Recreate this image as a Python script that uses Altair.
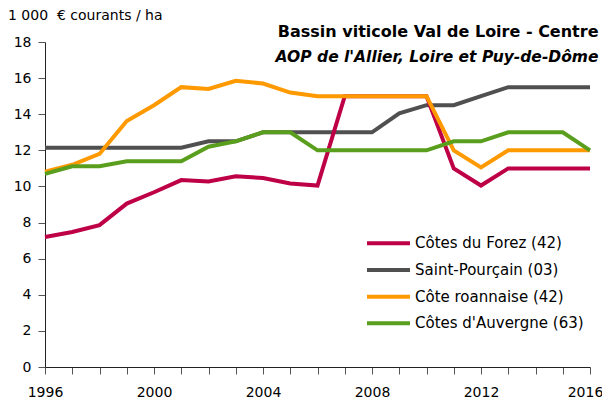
import altair as alt
import pandas as pd

years = [1996, 1997, 1998, 1999, 2000, 2001, 2002, 2003, 2004, 2005, 2006,
         2007, 2008, 2009, 2010, 2011, 2012, 2013, 2014, 2015, 2016]
series_names = ["Côtes du Forez (42)", "Saint-Pourçain (03)",
                "Côte roannaise (42)", "Côtes d'Auvergne (63)"]
series_colors = ["#BE0046", "#505050", "#FF9900", "#5A9E1E"]
forez = [7.2, 7.48, 7.86, 9.05, 9.68, 10.35, 10.28, 10.56, 10.47, 10.16, 10.05,
         15.0, 15.0, 15.0, 15.0, 11.0, 10.05, 11.0, 11.0, 11.0, 11.0]
pourcain = [12.15, 12.15, 12.15, 12.15, 12.15, 12.15, 12.5, 12.5, 13.0, 13.0, 13.0,
            13.0, 13.0, 14.05, 14.5, 14.5, 15.0, 15.5, 15.5, 15.5, 15.5]
roannaise = [10.82, 11.2, 11.8, 13.62, 14.5, 15.5, 15.4, 15.85, 15.7, 15.2, 15.0,
             15.0, 15.0, 15.0, 15.0, 12.0, 11.05, 12.0, 12.0, 12.0, 12.0]
auvergne = [10.7, 11.12, 11.12, 11.4, 11.4, 11.4, 12.2, 12.5, 13.0, 13.0, 12.0,
            12.0, 12.0, 12.0, 12.0, 12.5, 12.5, 13.0, 13.0, 13.0, 12.0]
draw_order = ["Saint-Pourçain (03)", "Côtes du Forez (42)",
              "Côte roannaise (42)", "Côtes d'Auvergne (63)"]
y_ticks = [0, 2, 4, 6, 8, 10, 12, 14, 16, 18]
unit_label = "1\u00a0000\u00a0\u00a0€ courants / ha"
title_1 = "Bassin viticole Val de Loire - Centre"
title_2 = "AOP de l'Allier, Loire et Puy-de-Dôme"

FONT = "DejaVu Sans"
values = {series_names[0]: forez, series_names[1]: pourcain,
          series_names[2]: roannaise, series_names[3]: auvergne}
rows = []
for name in series_names:
    for yr, v in zip(years, values[name]):
        rows.append({"year": yr, "value": v, "series": name})
df = pd.DataFrame(rows)

color_scale = alt.Scale(domain=series_names, range=series_colors)

x_enc = alt.X("year:Q", scale=alt.Scale(domain=[1996, 2016], nice=False, zero=False),
              axis=alt.Axis(values=years, format="d", title=None,
                            labelExpr="datum.value % 4 == 0 ? datum.label : ''",
                            tickSize=7, labelPadding=11, labelFontSize=14,
                            labelFont=FONT, labelColor="#000", tickColor="#555",
                            domainColor="#222", grid=False, labelFlush=False,
                            labelOverlap=False, labelBound=False,
                            labelOffset={"condition": {"test": "datum.value == 2016",
                                                       "value": -5},
                                         "value": 0}))
y_enc = alt.Y("value:Q", scale=alt.Scale(domain=[0, 18], nice=False),
              axis=alt.Axis(values=y_ticks, title=None, tickSize=7, labelPadding=7,
                            labelFontSize=14, labelFont=FONT, labelColor="#000",
                            tickColor="#555", domainColor="#222", grid=False,
                            labelOverlap=False, labelFlush=False))

line_layers = []
for name in draw_order:
    layer = alt.Chart(df).transform_filter(
        alt.datum.series == name
    ).mark_line(strokeWidth=4, strokeJoin="miter", strokeCap="butt").encode(
        x=x_enc,
        y=y_enc,
        color=alt.Color("series:N", scale=color_scale, legend=None),
    )
    line_layers.append(layer)

leg_df = pd.DataFrame({"series": series_names, "idx": list(range(len(series_names)))})
leg_base = alt.Chart(leg_df).transform_calculate(ly="201.3 + datum.idx * 26.67")
leg_rules = leg_base.mark_rule(strokeWidth=4).encode(
    x=alt.value(322), x2=alt.value(365),
    y=alt.Y("ly:Q", scale=None),
    color=alt.Color("series:N", scale=color_scale, legend=None),
)
leg_text = leg_base.mark_text(align="left", baseline="middle", font=FONT,
                              fontSize=15, color="#000").encode(
    x=alt.value(370), y=alt.Y("ly:Q", scale=None), text="series:N",
)

unit_text = alt.Chart(pd.DataFrame({"t": [unit_label]})).mark_text(
    align="left", baseline="alphabetic", font=FONT, fontSize=14, color="#000"
).encode(x=alt.value(-37), y=alt.value(-22.5), text="t:N")

t1 = alt.Chart(pd.DataFrame({"t": [title_1]})).mark_text(
    align="right", baseline="alphabetic", font=FONT, fontSize=16,
    fontWeight="bold", color="#000"
).encode(x=alt.value(553.5), y=alt.value(-5.3), text="t:N")

t2 = alt.Chart(pd.DataFrame({"t": [title_2]})).mark_text(
    align="right", baseline="alphabetic", font=FONT, fontSize=15.5,
    fontWeight="bold", fontStyle="italic", color="#000"
).encode(x=alt.value(553.5), y=alt.value(20.3), text="t:N")

chart = alt.layer(*line_layers, leg_rules, leg_text, unit_text, t1, t2).properties(
    width=545, height=325,
    autosize=alt.AutoSizeParams(type="none"),
    padding={"left": 37, "top": 34, "right": 12, "bottom": 32},
    background="#ffffff",
).configure_view(stroke=None)

chart.save("out.html", embed_options={"renderer": "svg", "actions": False})
